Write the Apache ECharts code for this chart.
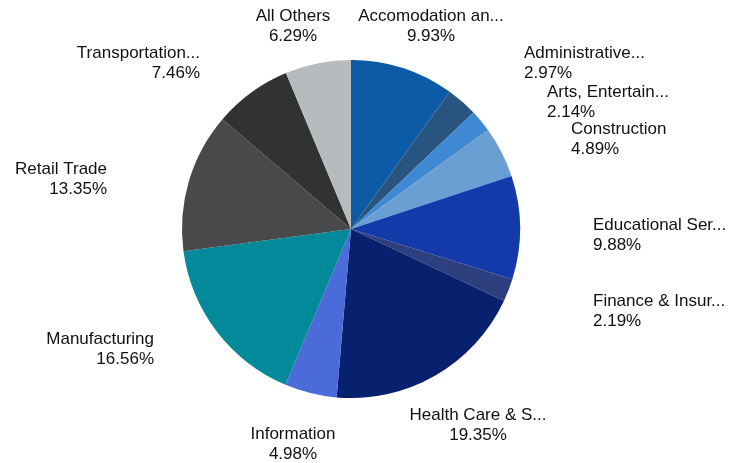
<!DOCTYPE html>
<html>
<head>
<meta charset="utf-8">
<title>Industry share</title>
<script src="https://cdn.jsdelivr.net/npm/echarts@6/dist/echarts.min.js"></script>
<style>
  html, body { margin: 0; padding: 0; background: #fff; }
  #chart { width: 740px; height: 463px; }
</style>
</head>
<body>
<div id="chart"></div>
<script>
// categories, in clockwise order starting at 12 o'clock
var categories = ['Accomodation an...', 'Administrative...', 'Arts, Entertain...', 'Construction',
  'Educational Ser...', 'Finance & Insur...', 'Health Care & S...', 'Information',
  'Manufacturing', 'Retail Trade', 'Transportation...', 'All Others'];
var shares = [9.93, 2.97, 2.14, 4.89, 9.88, 2.19, 19.35, 4.98, 16.56, 13.35, 7.46, 6.29];
var colors = ['#0d5aa7', '#285580', '#3f89d4', '#6a9fd3', '#1439a8', '#2e3f80',
  '#08216e', '#4a6bd8', '#028a9b', '#48494b', '#313333', '#b8bbbe'];

// where each label block sits (x anchor, y middle, text alignment)
var labelPos = [
  [431, 26, 'center'], [524, 63, 'left'], [547, 102, 'left'], [571, 139, 'left'],
  [593, 235, 'left'], [593, 311, 'left'], [478, 425, 'center'], [293, 444, 'center'],
  [154, 349, 'right'], [107, 179, 'right'], [200, 63, 'right'], [293, 26, 'center']
];

var chart = echarts.init(document.getElementById('chart'));

var pieData = categories.map(function (name, i) {
  return { name: name, value: shares[i], itemStyle: { color: colors[i] } };
});

chart.setOption({
  animation: false,
  series: [{
    type: 'pie',
    center: [351, 229],
    radius: 169,
    startAngle: 90,
    clockwise: true,
    avoidLabelOverlap: false,
    data: pieData,
    itemStyle: { borderWidth: 0 },
    label: {
      show: true,
      position: 'outside',
      formatter: function (p) { return p.name + '\n' + p.value.toFixed(2) + '%'; },
      fontFamily: 'Liberation Sans, Arial, sans-serif',
      fontSize: 17,
      lineHeight: 20,
      color: '#111'
    },
    labelLine: { show: false },
    labelLayout: function (params) {
      var lp = labelPos[params.dataIndex];
      return { x: lp[0], y: lp[1], align: lp[2], verticalAlign: 'middle' };
    }
  }]
});
</script>
</body>
</html>
